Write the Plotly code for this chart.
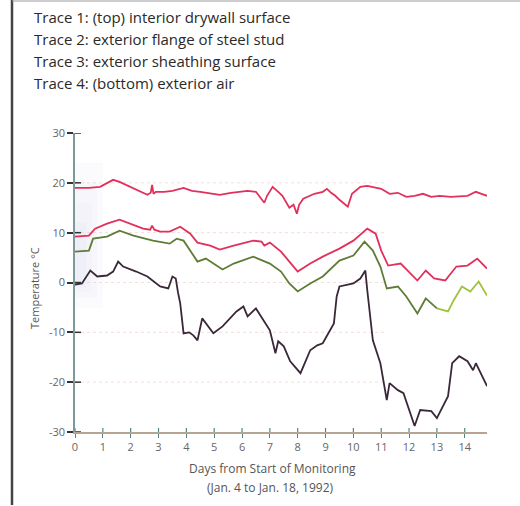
import plotly.graph_objects as go

# ---------------- data ----------------
header_lines = [
    "Trace 1: (top) interior drywall surface",
    "Trace 2: exterior flange of steel stud",
    "Trace 3: exterior sheathing surface",
    "Trace 4: (bottom) exterior air",
]

t1_days = [0, 0.5, 0.9, 1.2, 1.37, 1.6, 2.0, 2.3, 2.6, 2.72, 2.77, 2.82, 2.9, 3.2, 3.5, 3.9, 4.2, 4.5,
           4.9, 5.2, 5.6, 6.2, 6.5, 6.8, 6.9, 7.1, 7.3, 7.45, 7.7, 7.85, 7.97, 8.05, 8.2, 8.6, 8.9, 9.05,
           9.2, 9.35, 9.5, 9.8, 9.95, 10.25, 10.5, 10.8, 11.0, 11.3, 11.6, 11.9, 12.2, 12.5, 12.8, 13.1,
           13.5, 14.1, 14.4, 14.6, 14.8]
t1_temp = [19, 19, 19.2, 20.2, 20.6, 20.2, 19.2, 18.4, 17.6, 18, 19.6, 17.8, 18.2, 18.2, 18.4, 19, 18.4, 18.2,
           17.8, 17.6, 18, 18.4, 18.2, 16, 17.4, 19.2, 18.2, 17.4, 15, 15.6, 13.8, 15.6, 16.8, 17.8, 18.2, 18.8,
           18, 17.4, 16.6, 15.2, 17.8, 19.2, 19.4, 19, 18.8, 17.8, 18, 17.2, 17.4, 17.8, 17.2, 17.4,
           17.2, 17.4, 18.2, 17.8, 17.4]

t2_days = [0, 0.5, 0.72, 1.15, 1.6, 2.0, 2.45, 2.7, 2.77, 2.85, 3.06, 3.4, 3.78, 4.14, 4.4, 4.86, 5.2, 5.7,
           6.4, 6.7, 6.8, 7.0, 7.4, 7.7, 8.0, 8.45, 8.9, 9.5, 10.0, 10.5, 10.8, 11.0, 11.25, 11.7, 12.0,
           12.3, 12.6, 12.9, 13.3, 13.7, 14.1, 14.45, 14.8]
t2_temp = [9.2, 9.4, 10.8, 11.8, 12.6, 11.8, 10.8, 10.6, 11.4, 10.6, 10.2, 10.2, 11.2, 9.8, 8.0, 7.4, 6.6, 7.4,
           8.4, 8.2, 7.4, 8, 6.2, 4.2, 2.2, 3.8, 5.2, 6.8, 8.4, 10.8, 9.8, 6.4, 3.4, 3.8, 2.0,
           0.4, 2.4, 0.8, 0.4, 3.2, 3.4, 4.8, 2.8]

t3_days = [0, 0.5, 0.65, 1.15, 1.6, 2.1, 2.8, 3.4, 3.65, 3.9, 4.4, 4.7, 5.3, 5.7, 6.4, 7.0, 7.4, 7.7, 8.0,
           8.45, 8.9, 9.5, 10.0, 10.4, 10.7, 10.97, 11.2, 11.6, 11.9, 12.3, 12.6, 13.0, 13.4, 13.6, 13.9,
           14.2, 14.5, 14.8]
t3_temp = [6.2, 6.4, 8.8, 9.2, 10.4, 9.4, 8.4, 7.8, 8.8, 8.4, 4.2, 4.8, 2.6, 3.8, 5.2, 3.8, 2.2, -0.2, -1.8,
           -0.2, 1.2, 4.4, 5.4, 8.2, 6.4, 3.2, -1.2, -0.8, -2.8, -6.2, -3.2, -5.2, -5.8, -3.6, -0.8,
           -1.8, 0.2, -2.6]

t4_days = [0, 0.25, 0.55, 0.8, 1.15, 1.37, 1.55, 1.73, 2.2, 2.6, 3.06, 3.35, 3.5, 3.62, 3.7, 3.78, 3.9, 4.1,
           4.25, 4.4, 4.57, 4.75, 4.97, 5.3, 5.8, 6.05, 6.2, 6.5, 7.0, 7.2, 7.3, 7.5, 7.73, 8.1, 8.45, 8.7,
           8.9, 9.3, 9.4, 9.5, 10.0, 10.25, 10.37, 10.43, 10.5, 10.7, 10.97, 11.2, 11.3, 11.6, 11.8, 12.2,
           12.4, 12.8, 13.0, 13.4, 13.55, 13.8, 14.1, 14.3, 14.4, 14.8]
t4_temp = [-0.4, -0.2, 2.4, 1.2, 1.4, 2.2, 4.2, 3.2, 2.2, 1.2, -0.8, -1.2, 1.2, 0.8, -2, -4.2, -10.2, -10,
           -10.6, -11.6, -7.2, -8.6, -10.2, -8.8, -5.8, -4.8, -6.8, -5.2, -9.6, -14.2, -11.8, -12.8, -15.8,
           -18.2, -13.6, -12.6, -12.2, -8.2, -2.8, -0.8, -0.2, 0.8, 1.8, 2.4, -1.6, -11.6, -16.2, -23.6,
           -20.2, -21.6, -22.2, -28.8, -25.6, -25.8, -27.2, -22.8, -16.2, -14.8, -15.8, -17.6, -16.2, -20.8]

x_ticks = list(range(0, 15))
y_ticks = [-30, -20, -10, 0, 10, 20, 30]
y_ticktext = ["-30", "-20", "-10", "0", "10", "20", "30"]
x_title = "Days from Start of Monitoring"
x_subtitle = "(Jan. 4 to Jan. 18, 1992)"
y_title = "Temperature °C"

# ---------------- layout geometry ----------------
W, H = 520, 506
L, R, T, B = 75, 487, 133, 432


def px(xp):
    return (xp - L) / (R - L)


def py(yp):
    return (B - yp) / (B - T)


RED = "#e2305c"
OLIVE = "#5f7c36"
LIME = "#9fc23e"
DARK = "#3a2838"
FONT = "Open Sans"

fig = go.Figure()
fig.add_trace(go.Scatter(x=t1_days, y=t1_temp, mode="lines", line=dict(color=RED, width=1.8)))
fig.add_trace(go.Scatter(x=t2_days, y=t2_temp, mode="lines", line=dict(color=RED, width=1.8)))
split = t3_days.index(12.6)
fig.add_trace(go.Scatter(x=t3_days[:split + 2], y=t3_temp[:split + 2], mode="lines",
                         line=dict(color=OLIVE, width=1.8)))
fig.add_trace(go.Scatter(x=t3_days[split + 1:], y=t3_temp[split + 1:], mode="lines",
                         line=dict(color=LIME, width=1.8)))
fig.add_trace(go.Scatter(x=t4_days, y=t4_temp, mode="lines", line=dict(color=DARK, width=1.8)))

shapes = []
# faint smear near the y axis (layered for a soft fade)
for (x1, y0, y1) in [(1.0, -5, 24), (0.8, -3, 20), (0.6, -2, 16), (0.4, -1, 12)]:
    shapes.append(dict(type="rect", xref="x", yref="y", x0=0, x1=x1, y0=y0, y1=y1, layer="below",
                       line=dict(width=0), fillcolor="rgba(200,202,230,0.07)"))
# faint dotted gridlines
for v in [-20, -10, 0, 10, 20]:
    shapes.append(dict(type="line", xref="paper", yref="y", x0=0, x1=0.75, y0=v, y1=v, layer="below",
                       line=dict(color="rgba(225,160,150,0.35)", width=1, dash="dot")))
# inner halves of the crossing ticks
for v in y_ticks:
    shapes.append(dict(type="line", xref="paper", yref="y", x0=0, x1=px(L + 6), y0=v, y1=v,
                       line=dict(color="#333", width=1.5)))
for d in x_ticks:
    shapes.append(dict(type="line", xref="x", yref="paper", x0=d, x1=d, y0=0, y1=py(B - 4),
                       line=dict(color="#4f8585", width=1.2)))
# outer page border (left dark, top grey)
shapes.append(dict(type="line", xref="paper", yref="paper", x0=px(12), x1=px(12), y0=py(0), y1=py(505),
                   line=dict(color="#444", width=2.5)))
shapes.append(dict(type="line", xref="paper", yref="paper", x0=px(12), x1=px(W), y0=py(1), y1=py(1),
                   line=dict(color="#9a9a9a", width=1)))

annotations = []
hdr_y = [17, 39, 61, 83]
for txt, yy in zip(header_lines, hdr_y):
    annotations.append(dict(text=txt, x=px(32), y=py(yy), xref="paper", yref="paper", showarrow=False,
                            xanchor="left", yanchor="middle",
                            font=dict(family=FONT, size=15, color="#2a2a2a")))
annotations.append(dict(text=x_title, x=px(272), y=py(468), xref="paper", yref="paper", showarrow=False,
                        xanchor="center", yanchor="middle", font=dict(family=FONT, size=12, color="#555")))
annotations.append(dict(text=x_subtitle, x=px(270), y=py(488), xref="paper", yref="paper", showarrow=False,
                        xanchor="center", yanchor="middle", font=dict(family=FONT, size=12, color="#555")))
annotations.append(dict(text=y_title, x=px(34), y=py(288), xref="paper", yref="paper", showarrow=False,
                        textangle=-90, xanchor="center", yanchor="middle",
                        font=dict(family=FONT, size=11, color="#555")))

fig.update_layout(
    width=W, height=H,
    margin=dict(l=L, r=W - R, t=T, b=H - B, pad=0),
    paper_bgcolor="white", plot_bgcolor="white",
    showlegend=False,
    shapes=shapes, annotations=annotations,
    font=dict(family=FONT, color="#666"),
)
fig.update_xaxes(range=[0, 14.8], tickvals=x_ticks, showgrid=False, zeroline=False,
                 showline=True, linecolor="#b3a494", linewidth=1.5,
                 ticks="outside", ticklen=4, tickcolor="#4f8585", tickwidth=1.2,
                 tickfont=dict(family=FONT, size=11, color="#666"))
fig.update_yaxes(range=[-30, 30], tickvals=y_ticks, ticktext=y_ticktext, showgrid=False, zeroline=False,
                 showline=True, linecolor="#7d9a98", linewidth=1.5,
                 ticks="outside", ticklen=6, tickcolor="#333", tickwidth=1.5,
                 tickfont=dict(family=FONT, size=11, color="#666"))

fig.write_html("out.html", config={"displayModeBar": False},
               post_script="document.body.style.margin='0px';document.body.style.overflow='hidden';")
